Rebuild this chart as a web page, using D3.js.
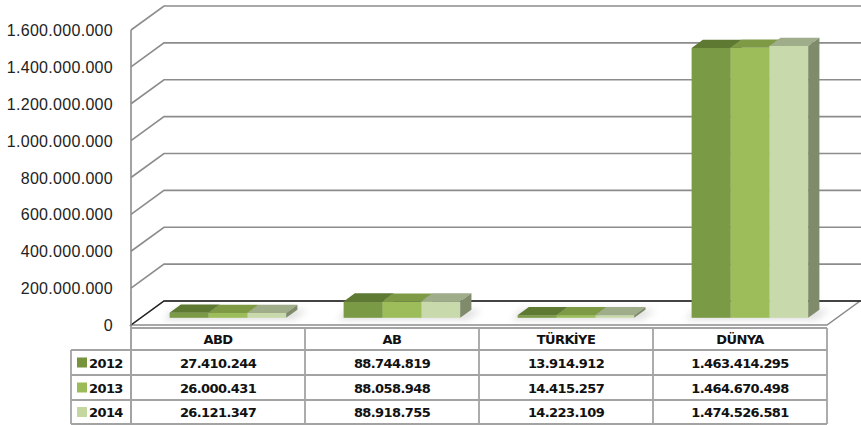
<!DOCTYPE html>
<html>
<head>
<meta charset="utf-8">
<script src="https://cdn.jsdelivr.net/npm/d3@7"></script>
<style>
  body { margin: 0; background: #fff; }
  svg { display: block; }
</style>
</head>
<body>
<div id="vis"></div>
<script>
// chart data
var categories = ["ABD", "AB", "TÜRKİYE", "DÜNYA"];
var years = ["2012", "2013", "2014"];
var values2012 = [27410244, 88744819, 13914912, 1463414295];
var values2013 = [26000431, 88058948, 14415257, 1464670498];
var values2014 = [26121347, 88918755, 14223109, 1474526581];
var yTicks = [0, 200000000, 400000000, 600000000, 800000000, 1000000000, 1200000000, 1400000000, 1600000000];

var series = [values2012, values2013, values2014];

var width = 861, height = 425;
var plotL = 131, plotR = 827, floorY = 325, topY = 30;
var DX = 33, DY = 24;      // depth of the 3d box
var z0 = 0.3, z1 = 0.64;   // depth range the bars sit in

var frontCol = ["#7b9a46", "#9dbd5b", "#c8d9ab"];
var topCol = ["#5e7932", "#7e9a45", "#a0ad8b"];
var sideCol = ["#5f7836", "#7a9345", "#7f8b6b"];
var keyCol = ["#77933c", "#9bbb59", "#c4d79f"];

var loc = d3.formatLocale({decimal: ",", thousands: ".", grouping: [3], currency: ["", ""]});
var fmt = loc.format(",");

var svg = d3.select("#vis").append("svg")
  .attr("width", width)
  .attr("height", height);

var defs = svg.append("defs");
defs.append("filter").attr("id", "blur")
  .attr("x", "-50%").attr("y", "-50%").attr("width", "200%").attr("height", "200%")
  .append("feGaussianBlur").attr("stdDeviation", 3.5);

var x = d3.scaleBand().domain(categories).range([plotL, plotR])
  .paddingInner(0.33).paddingOuter(0.165);
var xs = d3.scaleBand().domain(years).range([0, x.bandwidth()]);
var y = d3.scaleLinear().domain([0, 1600000000]).range([floorY, topY]);

//floor
svg.append("path")
  .attr("d", "M" + plotL + "," + floorY + "L" + plotR + "," + floorY +
    "L" + (plotR + DX) + "," + (floorY - DY) + "L" + (plotL + DX) + "," + (floorY - DY) + "Z")
  .attr("fill", "#fff")
  .attr("stroke", "#8c8c8c")
  .attr("stroke-width", 1.5);

//gridlines on the back wall
yTicks.forEach(function(t){
  var yy = y(t);
  svg.append("path")
    .attr("d", "M" + plotL + "," + yy + "L" + (plotL + DX) + "," + (yy - DY) + "L" + width + "," + (yy - DY))
    .attr("fill", "none")
    .attr("stroke", t == 0 ? "#222" : "#8c8c8c")
    .attr("stroke-width", t == 0 ? 1.3 : 1.6);
  svg.append("text")
    .attr("x", 113)
    .attr("y", yy + 6)
    .attr("text-anchor", "end")
    .style("font-family", "Liberation Sans, Arial, sans-serif")
    .style("font-size", "16px")
    .style("letter-spacing", "0.3px")
    .attr("fill", "#222")
    .text(fmt(t));
});

// left wall line
svg.append("line")
  .attr("x1", plotL).attr("x2", plotL)
  .attr("y1", y(1600000000)).attr("y2", 424)
  .attr("stroke", "#8c8c8c").attr("stroke-width", 1.6);

//soft shadows under each bar group
categories.forEach(function(c){
  var xl = x(c), xr = x(c) + x.bandwidth();
  svg.append("path")
    .attr("d", "M" + (xl + DX * z0 - 6) + "," + (floorY - DY * z0 + 2) +
      "L" + (xr + DX * z0 + 8) + "," + (floorY - DY * z0 + 2) +
      "L" + (xr + DX * z1 + 10) + "," + (floorY - DY * z1) +
      "L" + (xl + DX * z1 - 8) + "," + (floorY - DY * z1) + "Z")
    .attr("fill", "#b0b0b0")
    .attr("opacity", 0.4)
    .attr("filter", "url(#blur)");
});

//bars
categories.forEach(function(c, i){
  years.forEach(function(yr, j){
    var v = series[j][i];
    var xl = x(c) + xs(yr) + DX * z0;
    var w = xs.bandwidth();
    var yt = y(v) - DY * z0;
    var yb = floorY - DY * z0;
    var ddx = DX * (z1 - z0), ddy = DY * (z1 - z0);
    svg.append("rect")
      .attr("x", xl).attr("y", yt)
      .attr("width", w).attr("height", yb - yt)
      .attr("fill", frontCol[j]);
    svg.append("path")
      .attr("d", "M" + xl + "," + yt + "L" + (xl + w) + "," + yt + "L" + (xl + w + ddx) + "," + (yt - ddy) +
        "L" + (xl + ddx) + "," + (yt - ddy) + "Z")
      .attr("fill", topCol[j]);
    svg.append("path")
      .attr("d", "M" + (xl + w) + "," + yt + "L" + (xl + w + ddx) + "," + (yt - ddy) +
        "L" + (xl + w + ddx) + "," + (yb - ddy) + "L" + (xl + w) + "," + yb + "Z")
      .attr("fill", sideCol[j]);
  });
});

//data table
var step = x.step();
var colL = function(c){ return x(c) - (step - x.bandwidth()) / 2; };
var rowY = [328, 350, 375, 400, 424];
var legL = 71;
var lineCol = "#a3a3a3";

function tline(x1, y1, x2, y2){
  svg.append("line")
    .attr("x1", x1).attr("y1", y1).attr("x2", x2).attr("y2", y2)
    .attr("stroke", lineCol).attr("stroke-width", 1.8);
}

tline(plotL, rowY[0], plotR, rowY[0]);
for (var r = 1; r < rowY.length; r++){
  tline(legL, rowY[r], plotR, rowY[r]);
}
tline(legL, rowY[1], legL, rowY[4]);
categories.forEach(function(c){
  tline(colL(c) + step, rowY[0], colL(c) + step, rowY[4]);
});

var boldFont = "DejaVu Sans, sans-serif";
function boldText(sel){
  return sel.style("font-family", boldFont)
    .style("font-weight", "bold")
    .style("font-size", "13px")
    .style("letter-spacing", "-0.6px")
    .attr("fill", "#111");
}

categories.forEach(function(c){
  svg.append("text")
    .attr("x", colL(c) + step / 2)
    .attr("y", (rowY[0] + rowY[1]) / 2 + 5)
    .attr("text-anchor", "middle")
    .call(boldText)
    .text(c);
});

years.forEach(function(yr, j){
  var cy = (rowY[j + 1] + rowY[j + 2]) / 2;
  svg.append("rect")
    .attr("x", 77).attr("y", cy - 5)
    .attr("width", 10).attr("height", 10)
    .attr("fill", keyCol[j]);
  svg.append("text")
    .attr("x", 89)
    .attr("y", cy + 5)
    .call(boldText)
    .text(yr);
  categories.forEach(function(c, i){
    svg.append("text")
      .attr("x", colL(c) + step / 2)
      .attr("y", cy + 5)
      .attr("text-anchor", "middle")
      .call(boldText)
      .text(fmt(series[j][i]));
  });
});
</script>
</body>
</html>
